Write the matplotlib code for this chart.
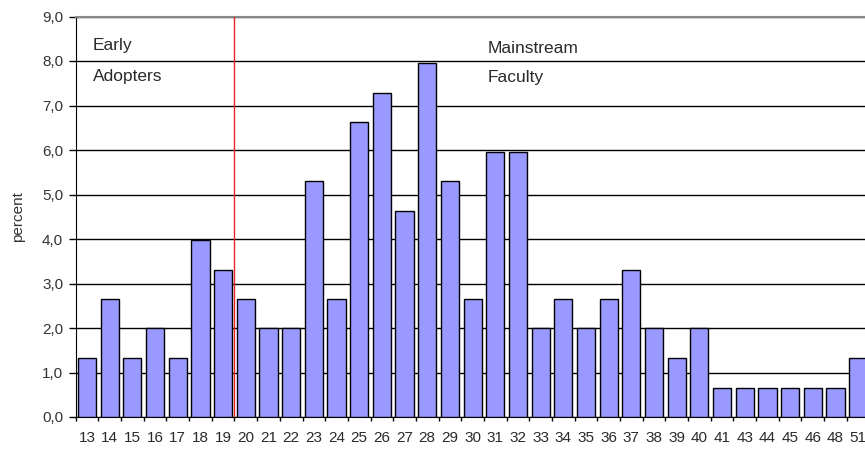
import matplotlib
matplotlib.use('Agg')
import matplotlib.pyplot as plt
import numpy as np
from matplotlib.ticker import FuncFormatter, FixedLocator


# data
ages = ['13', '14', '15', '16', '17', '18', '19', '20', '21', '22',
        '23', '24', '25', '26', '27', '28', '29', '30', '31', '32',
        '33', '34', '35', '36', '37', '38', '39', '40', '41', '43',
        '44', '45', '46', '48', '51']
percent = [1.32, 2.65, 1.32, 1.99, 1.32, 3.97, 3.31, 2.65, 1.99, 1.99,
           5.30, 2.65, 6.62, 7.28, 4.64, 7.95, 5.30, 2.65, 5.96, 5.96,
           1.99, 2.65, 1.99, 2.65, 3.31, 1.99, 1.32, 1.99, 0.66, 0.66,
           0.66, 0.66, 0.66, 0.66, 1.32]
split_after = '19'

plt.rcParams['font.family'] = ['Liberation Sans', 'DejaVu Sans']

W, H = 865, 449
fig = plt.figure(figsize=(W / 100, H / 100), dpi=100)
left, right, top, bottom = 75.7, 869.5, 16.5, 417.0
ax = fig.add_axes([left / W, 1 - bottom / H, (right - left) / W, (bottom - top) / H])

x = np.arange(len(ages))
ax.bar(x, percent, width=0.8, color='#9999ff', edgecolor='black',
       linewidth=1.0, zorder=3)

ax.set_xlim(-0.5, len(ages) - 0.5)
ax.set_ylim(0, 9)

# horizontal grid lines
ax.set_yticks(np.arange(0, 9.1, 1.0))
ax.yaxis.grid(True, color='black', linewidth=1.0, zorder=1)
ax.yaxis.set_major_formatter(FuncFormatter(lambda v, p: f'{v:.1f}'.replace('.', ',')))

# category labels with ticks between categories
ax.xaxis.set_major_locator(FixedLocator(np.arange(-0.5, len(ages), 1.0)))
ax.xaxis.set_major_formatter(FuncFormatter(lambda v, p: ''))
ax.xaxis.set_minor_locator(FixedLocator(x))
ax.set_xticklabels(ages, minor=True)
ax.tick_params(axis='x', which='major', length=3, width=1, direction='out', color='black')
ax.tick_params(axis='x', which='minor', length=0, pad=10, labelsize=11, labelcolor='#2a2a2a')
ax.tick_params(axis='y', length=5, width=1, direction='out', labelsize=11,
               labelcolor='#333333', pad=4)

ax.spines['right'].set_visible(False)
ax.spines['top'].set_color('#888888')
ax.spines['top'].set_linewidth(1.5)
ax.spines['left'].set_color('black')
ax.spines['bottom'].set_color('black')

# divider between early adopters and mainstream
div = ages.index(split_after) + 0.5
ax.axvline(div, color='#ee2222', linewidth=1.0, zorder=4)

txt = dict(fontsize=12.5, color='#2a2a2a', va='baseline')
ax.text(0.26, 8.24, 'Early', **txt)
ax.text(0.26, 7.56, 'Adopters', **txt)
ax.text(17.68, 8.17, 'Mainstream', **txt)
ax.text(17.68, 7.52, 'Faculty', **txt)

fig.text(18 / W, 1 - 217 / H, 'percent', rotation=90, fontsize=11,
         color='#333333', ha='center', va='center')

fig.savefig('out.png', dpi=100)
